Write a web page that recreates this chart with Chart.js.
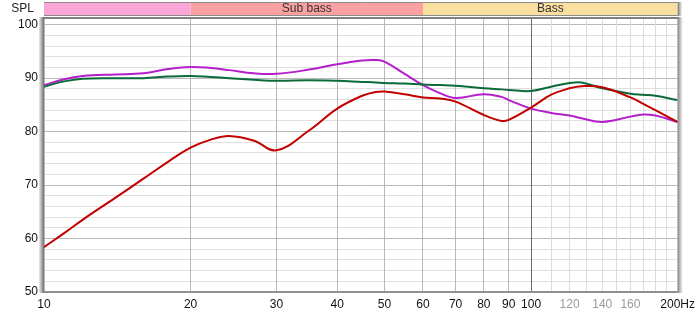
<!DOCTYPE html>
<html>
<head>
<meta charset="utf-8">
<script src="https://cdn.jsdelivr.net/npm/chart.js@4/dist/chart.umd.min.js"></script>
<style>
  html, body { margin: 0; padding: 0; background: #fff; }
</style>
</head>
<body>
<canvas id="spl-chart" width="700" height="317"></canvas>
<script>
// frequencies (Hz) the curves were read at
const freqs  = [10, 11, 12, 14, 16, 18, 20, 22, 24, 27, 30, 35, 40, 45, 48, 50, 55, 60, 65, 70, 80, 87, 90, 100, 110, 120, 127, 140, 160, 170, 180, 200];
const purple = [88.7, 89.8, 90.4, 90.7, 90.9, 91.7, 92.1, 91.9, 91.5, 90.9, 90.8, 91.6, 92.6, 93.3, 93.4, 93.1, 90.8, 88.7, 87.2, 86.3, 87.0, 86.5, 85.9, 84.3, 83.5, 83.0, 82.5, 81.8, 82.8, 83.2, 83.0, 81.8];
const green  = [88.4, 89.4, 89.9, 90.0, 90.0, 90.3, 90.4, 90.2, 90.0, 89.7, 89.5, 89.6, 89.5, 89.3, 89.2, 89.1, 89.0, 88.8, 88.7, 88.6, 88.1, 87.9, 87.8, 87.6, 88.4, 89.1, 89.2, 88.1, 87.1, 86.9, 86.7, 85.9];
const red    = [58.4, 61.0, 63.5, 67.6, 71.2, 74.4, 77.0, 78.5, 79.2, 78.3, 76.5, 80.2, 84.3, 86.7, 87.4, 87.5, 87.0, 86.4, 86.2, 85.6, 83.1, 82.0, 82.2, 84.5, 86.9, 88.1, 88.5, 88.3, 86.4, 85.2, 84.0, 81.8];

const xTicks = [10, 20, 30, 40, 50, 60, 70, 80, 90, 100, 110, 120, 130, 140, 150, 160, 170, 180, 190, 200];
const xTickLabels = ['10', '20', '30', '40', '50', '60', '70', '80', '90', '100', '', '120', '', '140', '', '160', '', '', '', '200Hz'];
const grayLabels = [120, 140, 160];
const yTicks = [50, 52, 54, 56, 58, 60, 62, 64, 66, 68, 70, 72, 74, 76, 78, 80, 82, 84, 86, 88, 90, 92, 94, 96, 98, 100];

const bandEdges = [10, 20, 60, 200];
const bandNames = ['', 'Sub bass', 'Bass'];
const bandColors = ['#fca6d7', '#fca1a1', '#f9e0a1'];

const FONT = 'Liberation Sans';

const pts = vals => freqs.map((f, i) => ({ x: f, y: vals[i] }));

const frame = {
  id: 'frame',
  afterDraw(chart) {
    const { ctx, chartArea: a, scales: { x } } = chart;
    ctx.save();
    // band strip above the plot
    const top = 2, h = 13;
    for (let i = 0; i < bandNames.length; i++) {
      const x0 = x.getPixelForValue(bandEdges[i]);
      const x1 = x.getPixelForValue(bandEdges[i + 1]);
      ctx.fillStyle = bandColors[i];
      ctx.fillRect(x0, top, x1 - x0, h);
      ctx.strokeStyle = '#8c8c8c';
      ctx.lineWidth = 1;
      ctx.beginPath();
      ctx.moveTo(Math.round(x1) + 0.5, top);
      ctx.lineTo(Math.round(x1) + 0.5, top + h);
      ctx.stroke();
      if (bandNames[i]) {
        ctx.fillStyle = '#333';
        ctx.font = '12px ' + FONT;
        ctx.textAlign = 'center';
        ctx.textBaseline = 'middle';
        ctx.fillText(bandNames[i], (x0 + x1) / 2, top + h / 2 + 0.5);
      }
    }
    ctx.strokeStyle = '#8c8c8c';
    ctx.beginPath();
    ctx.moveTo(a.left, top + 0.5); ctx.lineTo(a.right, top + 0.5);
    ctx.moveTo(a.left, top + h + 0.5); ctx.lineTo(a.right, top + h + 0.5);
    ctx.stroke();
    ctx.fillStyle = '#222';
    ctx.font = '12px ' + FONT;
    ctx.textAlign = 'right';
    ctx.textBaseline = 'middle';
    ctx.fillText('SPL', 34, top + h / 2 + 0.5);

    // plot frame with side shadows
    ctx.fillStyle = '#808080';
    ctx.fillRect(a.left - 1, a.top - 1, a.right - a.left + 2, 2);
    let g = ctx.createLinearGradient(a.left - 5, 0, a.left, 0);
    g.addColorStop(0, 'rgba(120,120,120,0.15)');
    g.addColorStop(1, 'rgba(110,110,110,1)');
    ctx.fillStyle = g;
    ctx.fillRect(a.left - 5, a.top - 1, 5, a.bottom - a.top + 2);
    g = ctx.createLinearGradient(a.right, 0, a.right + 5, 0);
    g.addColorStop(0, 'rgba(130,130,130,1)');
    g.addColorStop(1, 'rgba(150,150,150,0.1)');
    ctx.fillStyle = g;
    ctx.fillRect(a.right, a.top - 1, 5, a.bottom - a.top + 2);
    ctx.fillRect(a.right, top, 4, h + 1);
    ctx.fillStyle = '#909090';
    ctx.fillRect(a.left, a.bottom - 1, a.right - a.left, 2);
    ctx.restore();
  }
};

new Chart(document.getElementById('spl-chart'), {
  type: 'line',
  data: {
    datasets: [
      { data: pts(red), borderColor: '#c20000', order: 1 },
      { data: pts(green), borderColor: '#0b6b3a', order: 2 },
      { data: pts(purple), borderColor: '#b41ecb', order: 3 }
    ]
  },
  options: {
    responsive: false,
    animation: false,
    layout: { padding: { left: 0, right: 22, top: 18, bottom: 0 } },
    elements: {
      line: { borderWidth: 2, tension: 0.4 },
      point: { radius: 0 }
    },
    plugins: { legend: { display: false }, tooltip: { enabled: false } },
    scales: {
      x: {
        type: 'logarithmic',
        min: 10,
        max: 200,
        afterBuildTicks: s => { s.ticks = xTicks.map(v => ({ value: v })); },
        afterFit: s => { s.height = 25; },
        ticks: {
          autoSkip: false,
          maxRotation: 0,
          padding: 5,
          font: { family: FONT, size: 12 },
          color: c => grayLabels.includes(c.tick.value) ? '#9a9a9a' : '#111',
          callback: (v, i) => xTickLabels[i]
        },
        grid: {
          z: -1,
          drawTicks: false,
          color: c => c.tick.value === 100 ? '#6e6e6e' : (c.tick.value > 100 ? '#dcdcdc' : '#b8b8b8')
        },
        border: { display: false }
      },
      y: {
        min: 50,
        max: 101.25,
        afterBuildTicks: s => { s.ticks = yTicks.map(v => ({ value: v })); },
        afterFit: s => { s.width = 44; },
        ticks: {
          autoSkip: false,
          padding: 6,
          font: { family: FONT, size: 12 },
          color: '#111',
          callback: v => v % 10 === 0 ? String(v) : ''
        },
        grid: {
          z: -2,
          drawTicks: false,
          color: c => c.tick.value % 10 === 0 ? '#b8b8b8' : '#e0e0e0'
        },
        border: { display: false }
      }
    }
  },
  plugins: [frame]
});
</script>
</body>
</html>
